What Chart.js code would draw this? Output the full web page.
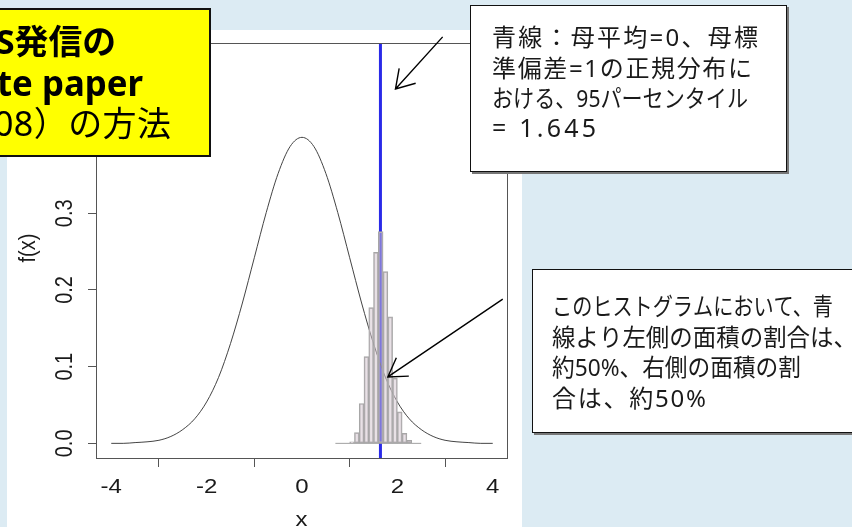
<!DOCTYPE html>
<html>
<head>
<meta charset="utf-8">
<script src="https://cdn.jsdelivr.net/npm/chart.js@4.4.1/dist/chart.umd.min.js"></script>
<style>
html,body{margin:0;padding:0;background:#dcebf3;}
#wrap{position:relative;width:852px;height:527px;overflow:hidden;}
canvas{display:block;}
</style>
</head>
<body>
<div id="wrap"><canvas id="c" width="852" height="527"></canvas></div>
<script>
// ---- data ----
const xTickValues = [-4, -2, 0, 2, 4];
const xTickLabels = ['-4', '-2', '0', '2', '4'];
const yTickValues = [0, 0.1, 0.2, 0.3];
const yTickLabels = ['0.0', '0.1', '0.2', '0.3'];
const xTitle = 'x';
const yTitle = 'f(x)';

// density curve f(x)
const curveX = [-4,-3.75,-3.5,-3.25,-3,-2.75,-2.5,-2.25,-2,-1.75,-1.5,-1.25,-1,-0.75,-0.5,-0.25,0,
                0.25,0.5,0.75,1,1.25,1.5,1.75,2,2.25,2.5,2.75,3,3.25,3.5,3.75,4];
const curveY = [0.000,0.000,0.001,0.002,0.004,0.009,0.018,0.032,0.054,0.086,0.130,0.183,0.242,0.301,0.352,0.387,0.399,
                0.387,0.352,0.301,0.242,0.183,0.130,0.086,0.054,0.032,0.018,0.009,0.004,0.002,0.001,0.000,0.000];

// histogram bins (left edge) and heights
const binStarts  = [0.7,0.8,0.9,1.0,1.1,1.2,1.3,1.4,1.5,1.6,1.7,1.8,1.9,2.0,2.1,2.2,2.3,2.4];
const binHeights = [0,0,0,0.002,0.014,0.052,0.113,0.177,0.249,0.276,0.224,0.165,0.085,0.041,0.013,0.004,0,0];
const binWidth = 0.1;

// 95th percentile of N(0,1)
const quantile95 = 1.645;

// annotation texts
const noteTitle = ['S発信の', 'te paper', '08）の方法'];
const noteBlue = ['青線：母平均=0、母標', '準偏差=1の正規分布に', 'おける、95パーセンタイル', '= 1.645'];
const noteHist = ['このヒストグラムにおいて、青', '線より左側の面積の割合は、', '約50%、右側の面積の割', '合は、約50%'];

// ---- build datasets ----
const histData = binStarts.map((s, i) => ({x: s + binWidth / 2, y: binHeights[i]}));
const baseData = [{x: binStarts[0], y: 0}, {x: binStarts[binStarts.length - 1] + binWidth, y: 0}];
const curveData = curveX.map((v, i) => ({x: v, y: curveY[i]}));

const AX_FONT = '20px "Liberation Sans", Arial, sans-serif';
const JP = '"Noto Sans", "Noto Sans CJK JP", sans-serif';

function drawFit(ctx, text, x, baseline, targetEnd, font) {
  ctx.font = font;
  const hasLS = 'letterSpacing' in ctx;
  if (hasLS) ctx.letterSpacing = '0px';
  ctx.textAlign = 'left';
  ctx.textBaseline = 'alphabetic';
  const w = ctx.measureText(text).width;
  const n = Array.from(text).length;
  const target = targetEnd - x;
  if (hasLS && n > 1 && target >= w) {
    ctx.letterSpacing = ((target - w) / (n - 1)) + 'px';
    ctx.fillText(text, x, baseline);
    ctx.letterSpacing = '0px';
  } else {
    ctx.save(); ctx.translate(x, baseline); ctx.scale(target / w, 1);
    ctx.fillText(text, 0, 0); ctx.restore();
  }
}

function arrow(ctx, x0, y0, x1, y1) {
  const ang = Math.atan2(y0 - y1, x0 - x1);
  const L = 21, da = 32 * Math.PI / 180;
  ctx.beginPath();
  ctx.moveTo(x0, y0); ctx.lineTo(x1, y1);
  ctx.moveTo(x1 + L * Math.cos(ang + da), y1 + L * Math.sin(ang + da));
  ctx.lineTo(x1, y1);
  ctx.lineTo(x1 + L * Math.cos(ang - da), y1 + L * Math.sin(ang - da));
  ctx.stroke();
}

const arrowsDataCoords = [
  {from: [2.95, 0.530], to: [1.96, 0.462]},
  {from: [4.21, 0.188], to: [1.80, 0.0866]}
];

const decor = {
  id: 'decor',
  beforeDraw(chart) {
    const ctx = chart.ctx;
    ctx.save();
    ctx.fillStyle = '#dcebf3'; ctx.fillRect(0, 0, 852, 527);
    ctx.fillStyle = '#ffffff'; ctx.fillRect(7, 30, 515, 497);
    ctx.restore();
  },
  beforeDatasetsDraw(chart) {
    const {ctx, chartArea: a, scales: {x}} = chart;
    const px = x.getPixelForValue(quantile95);
    ctx.save();
    ctx.strokeStyle = '#2a2ae8'; ctx.lineWidth = 3;
    ctx.beginPath(); ctx.moveTo(px, a.top); ctx.lineTo(px, a.bottom); ctx.stroke();
    ctx.restore();
  },
  afterDraw(chart) {
    const {ctx, chartArea: a, scales: {x, y}} = chart;
    ctx.save();
    // frame
    ctx.strokeStyle = '#555'; ctx.lineWidth = 1;
    ctx.strokeRect(Math.round(a.left) + 0.5, Math.round(a.top) + 0.5, Math.round(a.width) - 1, Math.round(a.height) - 1);
    // tick labels
    ctx.fillStyle = '#1a1a1a'; ctx.font = AX_FONT;
    ctx.textAlign = 'center'; ctx.textBaseline = 'alphabetic';
    xTickValues.forEach((v, i) => {
      ctx.save(); ctx.translate(x.getPixelForValue(v), 493); ctx.scale(1.2, 1);
      ctx.fillText(xTickLabels[i], 0, 0); ctx.restore();
    });
    yTickValues.forEach((v, i) => {
      ctx.save(); ctx.translate(71.5, y.getPixelForValue(v)); ctx.scale(1.2, 1); ctx.rotate(-Math.PI / 2);
      ctx.fillText(yTickLabels[i], 0, 0); ctx.restore();
    });
    // axis titles
    ctx.save(); ctx.translate((a.left + a.right) / 2 - 0.5, 526); ctx.scale(1.2, 1); ctx.fillText(xTitle, 0, 0); ctx.restore();
    ctx.save(); ctx.translate(34.5, (a.top + a.bottom) / 2 - 3); ctx.scale(1.2, 1); ctx.rotate(-Math.PI / 2);
    ctx.fillText(yTitle, 0, 0); ctx.restore();

    // arrows
    ctx.strokeStyle = '#000'; ctx.lineWidth = 1.4;
    arrowsDataCoords.forEach(ar => {
      arrow(ctx, x.getPixelForValue(ar.from[0]), y.getPixelForValue(ar.from[1]),
                 x.getPixelForValue(ar.to[0]), y.getPixelForValue(ar.to[1]));
    });

    // yellow title box
    ctx.fillStyle = '#ffff00'; ctx.fillRect(-10, 8, 221, 149);
    ctx.strokeStyle = '#111'; ctx.lineWidth = 2; ctx.strokeRect(-10, 9, 220, 147);
    ctx.fillStyle = '#000';
    drawFit(ctx, noteTitle[0], -4, 54, 116, 'bold 34px ' + JP);
    drawFit(ctx, noteTitle[1], -3, 96, 143, 'bold 36px ' + JP);
    drawFit(ctx, noteTitle[2], -6, 136, 171, '34px ' + JP);

    // blue-line note box
    ctx.fillStyle = '#777'; ctx.fillRect(472, 7, 317, 167);
    ctx.fillStyle = '#fff'; ctx.fillRect(470, 5, 317, 167);
    ctx.strokeStyle = '#111'; ctx.lineWidth = 1; ctx.strokeRect(470.5, 5.5, 316, 166);
    ctx.fillStyle = '#1a1a1a';
    const f1 = '24px ' + JP;
    drawFit(ctx, noteBlue[0], 492, 46, 758, f1);
    drawFit(ctx, noteBlue[1], 492, 76.5, 752, f1);
    drawFit(ctx, noteBlue[2], 492, 107, 748, f1);
    drawFit(ctx, noteBlue[3], 492, 137, 596, '25px ' + JP);

    // histogram note box
    ctx.fillStyle = '#777'; ctx.fillRect(534, 271, 330, 164);
    ctx.fillStyle = '#fff'; ctx.fillRect(532, 269, 330, 164);
    ctx.strokeStyle = '#111'; ctx.lineWidth = 1; ctx.strokeRect(532.5, 269.5, 330, 163);
    ctx.fillStyle = '#1a1a1a';
    drawFit(ctx, noteHist[0], 552, 315, 833, f1);
    drawFit(ctx, noteHist[1], 552, 345.5, 857, f1);
    drawFit(ctx, noteHist[2], 552, 376, 801, f1);
    drawFit(ctx, noteHist[3], 552, 406.5, 706, f1);
    ctx.restore();
  }
};

new Chart(document.getElementById('c'), {
  type: 'bar',
  data: {
    datasets: [
      {
        type: 'bar', label: 'histogram', data: histData, order: 0,
        backgroundColor: 'rgba(210,195,205,0.5)', borderColor: '#a6a6a6', borderWidth: 1,
        borderSkipped: false, barPercentage: 1, categoryPercentage: 1, grouped: false
      },
      {
        type: 'line', label: 'base', data: baseData, order: 1,
        borderColor: '#a0a0a0', borderWidth: 1, pointRadius: 0
      },
      {
        type: 'line', label: 'f(x)', data: curveData, order: 2,
        borderColor: '#444', borderWidth: 1, pointRadius: 0, cubicInterpolationMode: 'monotone'
      }
    ]
  },
  options: {
    responsive: false, animation: false, devicePixelRatio: 1,
    layout: {padding: {top: 43, right: 344, left: 0, bottom: 0}},
    plugins: {legend: {display: false}, tooltip: {enabled: false}},
    scales: {
      x: {
        type: 'linear', min: -4.32, max: 4.32, offset: false,
        afterBuildTicks: s => { s.ticks = xTickValues.map(v => ({value: v})); },
        afterFit: s => { s.height = 68; },
        ticks: {display: false},
        grid: {display: true, drawOnChartArea: false, drawTicks: true, tickLength: 8, color: '#555', lineWidth: 1},
        border: {display: false}
      },
      y: {
        type: 'linear', min: -0.0204, max: 0.522,
        afterBuildTicks: s => { s.ticks = yTickValues.map(v => ({value: v})); },
        afterFit: s => { s.width = 96; },
        ticks: {display: false},
        grid: {display: true, drawOnChartArea: false, drawTicks: true, tickLength: 8, color: '#555', lineWidth: 1},
        border: {display: false}
      }
    }
  },
  plugins: [decor]
});
</script>
</body>
</html>
